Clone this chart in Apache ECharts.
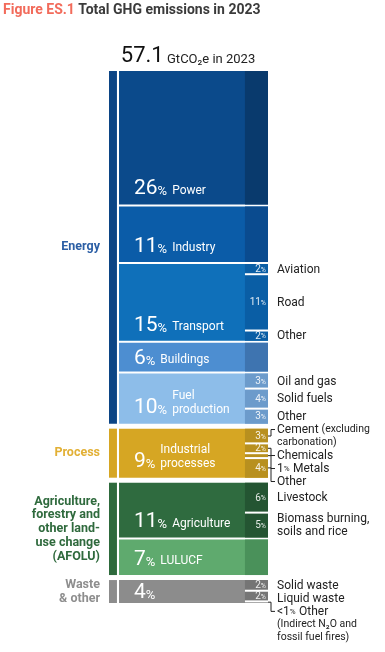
<!DOCTYPE html>
<html><head><meta charset="utf-8">
<script src="https://cdn.jsdelivr.net/npm/echarts@6/dist/echarts.min.js"></script>
<style>html,body{margin:0;padding:0;background:#fff}#c{width:385px;height:652px}</style>
</head><body><div id="c"></div>
<script>
// ---------- data ----------
const totalGt = '57.1';
const year = 2023;
const sectorNames = ['Power','Industry','Transport','Buildings','Fuel\nproduction','Industrial\nprocesses','Agriculture','LULUCF',''];
const sectorShare = [25.8, 11.0, 15.1, 5.9, 9.8, 9.4, 10.7, 7.0, 4.4];
const sectorGroup = [0,0,0,0,0,1,2,2,3];
const groupNames = ['Energy','Process','Agriculture,\nforestry and\nother land-\nuse change\n(AFOLU)','Waste\n& other'];
const subSector = [2,2,2,4,4,4,5,5,5,5,6,6,8,8,8];
const subNames = ['Aviation','Road','Other','Oil and gas','Solid fuels','Other','Cement (excluding\ncarbonation)','Chemicals','Metals','Other','Livestock','Biomass burning,\nsoils and rice','Solid waste','Liquid waste','Other\n(Indirect N₂O and\nfossil fuel fires)'];
const subShare = [2, 11, 2, 3, 4, 3, 3, 2, 1, 4, 6, 5, 2, 2, 0.3];

// ---------- style ----------
const FONT = 'Roboto, "Noto Sans", sans-serif';
const sectorColor = ['#0b4a8b','#0b5ca8','#0f70ba','#4d8ed1','#8dbde9','#d6a623','#2f6b3f','#5faa6e','#8c8c8c'];
const sectorSubColor = ['#093a6d','#0a4b8f','#0a5ea5','#3e74b0','#6c9bcb','#b8901f','#245532','#4a915a','#757575'];
const groupStripColor = ['#0c4585','#d6a623','#2e6a3c','#8c8c8c'];
const groupTextColor = ['#2c5fa5','#e2b035','#2f6a3d','#8e8e8e'];
const GAP = 5, STRIP_END = 5, MAIN_START = 6.3, SUB_START = 85.5, LH = 13;

const cumStart = []; let acc = 0;
sectorShare.forEach(v => { cumStart.push(acc); acc += v; });
const total = acc;

const mc = document.createElement('canvas').getContext('2d');
function tw(t, size, weight) { mc.font = (weight || 'normal') + ' ' + size + 'px ' + FONT; return mc.measureText(t).width; }

function sectorBox(cy, i) {
  const g = sectorGroup[i];
  const first = i === 0 || sectorGroup[i - 1] !== g;
  const last = i === sectorShare.length - 1 || sectorGroup[i + 1] !== g;
  return [cy(cumStart[i]) + g * GAP + (first ? 0 : 1), cy(cumStart[i] + sectorShare[i]) + g * GAP - (last ? 0 : 1)];
}
function subLayout(cy) {
  const out = []; let prevBottom = -1e9;
  for (let j = 0; j < subShare.length; j++) {
    const s = subSector[j]; const [y0, y1] = sectorBox(cy, s);
    let sum = 0, before = 0, thin = false;
    for (let k = 0; k < subShare.length; k++) if (subSector[k] === s) { if (k < j) before += subShare[k]; sum += subShare[k]; if (subShare[k] < 2) thin = true; }
    const c0 = y0 + (y1 - y0) * before / sum, c1 = y0 + (y1 - y0) * (before + subShare[j]) / sum;
    const isLast = Math.abs(before + subShare[j] - sum) < 1e-9;
    const lines = subNames[j].split('\n');
    const H = lines.length * LH, cc = (c0 + c1) / 2;
    const top = Math.max(cc - H / 2, prevBottom);
    prevBottom = top + H;
    out.push({ c0, c1, cc, isLast, lines, thin, firstY: top + LH / 2 });
  }
  return out;
}

const chart = echarts.init(document.getElementById('c'));
const pctRich = (n, p, color) => ({
  n: { fontSize: n, lineHeight: n + 1, verticalAlign: 'bottom', fill: color, fontFamily: FONT },
  p: { fontSize: p, lineHeight: p + 1, verticalAlign: 'bottom', fill: color, fontFamily: FONT, padding: [0, 0, 1, 0] }
});

function renderSector(params, api) {
  const i = params.dataIndex;
  const cy = v => api.coord([0, v])[1];
  const [y0, y1] = sectorBox(cy, i);
  const xm = api.coord([MAIN_START, 0])[0], xs = api.coord([SUB_START, 0])[0], xr = api.coord([100, 0])[0];
  const h = y1 - y0;
  const B = h < 32 ? (y0 + y1) / 2 + 7 : y1 - 10;
  const x0 = xm + 15;
  const num = String(Math.round(sectorShare[i]));
  const wNum = tw(num, 21) + tw('%', 13);
  const ch = [
    { type: 'rect', shape: { x: xm, y: y0, width: xr - xm, height: h }, style: { fill: sectorColor[i] } },
    { type: 'rect', shape: { x: xs, y: y0, width: xr - xs, height: h }, style: { fill: sectorSubColor[i] } },
    { type: 'text', x: x0, y: B + 5, style: { text: '{n|' + num + '}{p|%}', align: 'left', verticalAlign: 'bottom', rich: pctRich(21, 13, '#fff') } }
  ];
  const lines = sectorNames[i] ? sectorNames[i].split('\n') : [];
  lines.forEach((ln, k) => {
    ch.push({ type: 'text', x: x0 + wNum + 5, y: B - 4 - (lines.length - 1 - k) * 14,
      style: { text: ln, align: 'left', verticalAlign: 'middle', fill: '#fff', fontSize: 12, fontFamily: FONT } });
  });
  return { type: 'group', children: ch };
}

function renderGroup(params, api) {
  const g = params.dataIndex;
  const cy = v => api.coord([0, v])[1];
  const idx = sectorGroup.map((v, i) => v === g ? i : -1).filter(i => i >= 0);
  const y0 = sectorBox(cy, idx[0])[0], y1 = sectorBox(cy, idx[idx.length - 1])[1];
  const xa = api.coord([0, 0])[0], xb = api.coord([STRIP_END, 0])[0];
  const lines = groupNames[g].split('\n');
  const lh = 13.75, mid = (y0 + y1) / 2;
  const ch = [{ type: 'rect', shape: { x: xa, y: y0, width: xb - xa, height: y1 - y0 }, style: { fill: groupStripColor[g] } }];
  lines.forEach((ln, k) => {
    ch.push({ type: 'text', x: xa - 9, y: mid + (k - (lines.length - 1) / 2) * lh,
      style: { text: ln, align: 'right', verticalAlign: 'middle', fill: groupTextColor[g], fontSize: 12.5, fontWeight: 'bold', fontFamily: FONT } });
  });
  return { type: 'group', children: ch };
}

function renderSub(params, api) {
  const j = params.dataIndex;
  const cy = v => api.coord([0, v])[1];
  const L = subLayout(cy)[j];
  const xs = api.coord([SUB_START, 0])[0], xr = api.coord([100, 0])[0];
  const share = subShare[j];
  const ch = [];
  if (!L.isLast) ch.push({ type: 'line', shape: { x1: xs, y1: L.c1, x2: xr, y2: L.c1 }, style: { stroke: '#fff', lineWidth: 2 } });
  if (share >= 2) ch.push({ type: 'text', x: xr - 2, y: L.cc + 5.5,
    style: { text: '{n|' + Math.round(share) + '}{p|%}', align: 'right', verticalAlign: 'bottom', rich: pctRich(10, 7, 'rgba(255,255,255,0.88)') } });
  const tx = xr + 9;
  let open = false;
  L.lines.forEach((ln, k) => {
    let txt = '';
    if (k === 0 && share < 2) txt += '{n|' + (share < 1 ? '<1' : Math.round(share)) + '}{q|%} ';
    if (open) txt += '{s|' + ln + '}';
    else {
      const p = ln.indexOf('(');
      if (p >= 0) txt += (p > 0 ? '{m|' + ln.slice(0, p) + '}' : '') + '{s|' + ln.slice(p) + '}';
      else txt += '{m|' + ln + '}';
    }
    open = open ? ln.lastIndexOf(')') < 0 : ln.lastIndexOf('(') > ln.lastIndexOf(')');
    ch.push({ type: 'text', x: tx, y: L.firstY + k * LH, style: { text: txt, align: 'left', verticalAlign: 'middle', rich: {
      m: { fontSize: 12, fill: '#222', fontFamily: FONT, lineHeight: 13, verticalAlign: 'bottom' },
      s: { fontSize: 10.5, fill: '#222', fontFamily: FONT, lineHeight: 13, verticalAlign: 'bottom', padding: [0, 0, 1, 0] },
      n: { fontSize: 12, fill: '#222', fontFamily: FONT, lineHeight: 13, verticalAlign: 'bottom' },
      q: { fontSize: 8, fill: '#222', fontFamily: FONT, lineHeight: 13, verticalAlign: 'bottom', padding: [0, 0, 2, 0] }
    } } });
  });
  if (share < 2 || (L.thin && Math.abs(L.firstY - L.cc) > 3)) {
    ch.push({ type: 'polyline', shape: { points: [[xr, L.cc], [xr + 3, L.cc], [xr + 3, L.firstY], [xr + 7, L.firstY]] },
      style: { stroke: '#222', lineWidth: 1, fill: null } });
  }
  return { type: 'group', children: ch };
}

chart.setOption({
  animation: false,
  grid: { left: 109, right: 117, top: 71, bottom: 64 },
  xAxis: { type: 'value', min: 0, max: 100, show: false },
  yAxis: { type: 'value', min: 0, max: total, inverse: true, show: false },
  graphic: [
    { type: 'text', left: 3, top: 3, style: { text: '{a|Figure ES.1} {b|Total GHG emissions in ' + year + '}', rich: {
      a: { fill: '#f26b5b', fontSize: 14, fontWeight: 'bold', fontFamily: FONT },
      b: { fill: '#3b3b3b', fontSize: 14, fontWeight: 'bold', fontFamily: FONT } } } },
    { type: 'text', x: 188, y: 67, style: { text: '{n|' + totalGt + '} {u|GtCO₂e in ' + year + '}', align: 'center', verticalAlign: 'bottom', rich: {
      n: { fontSize: 22, lineHeight: 24, verticalAlign: 'bottom', fill: '#111', fontFamily: FONT },
      u: { fontSize: 13, lineHeight: 15, verticalAlign: 'bottom', fill: '#222', fontFamily: FONT, padding: [0, 0, 1, 0] } } } }
  ],
  series: [
    { type: 'custom', z: 1, silent: true, clip: false, renderItem: renderSector, data: sectorShare.map((v, i) => [i, v]) },
    { type: 'custom', z: 2, silent: true, clip: false, renderItem: renderGroup, data: groupNames.map((n, i) => [i]) },
    { type: 'custom', z: 3, silent: true, clip: false, renderItem: renderSub, data: subShare.map((v, i) => [i, v]) }
  ]
});
</script></body></html>
